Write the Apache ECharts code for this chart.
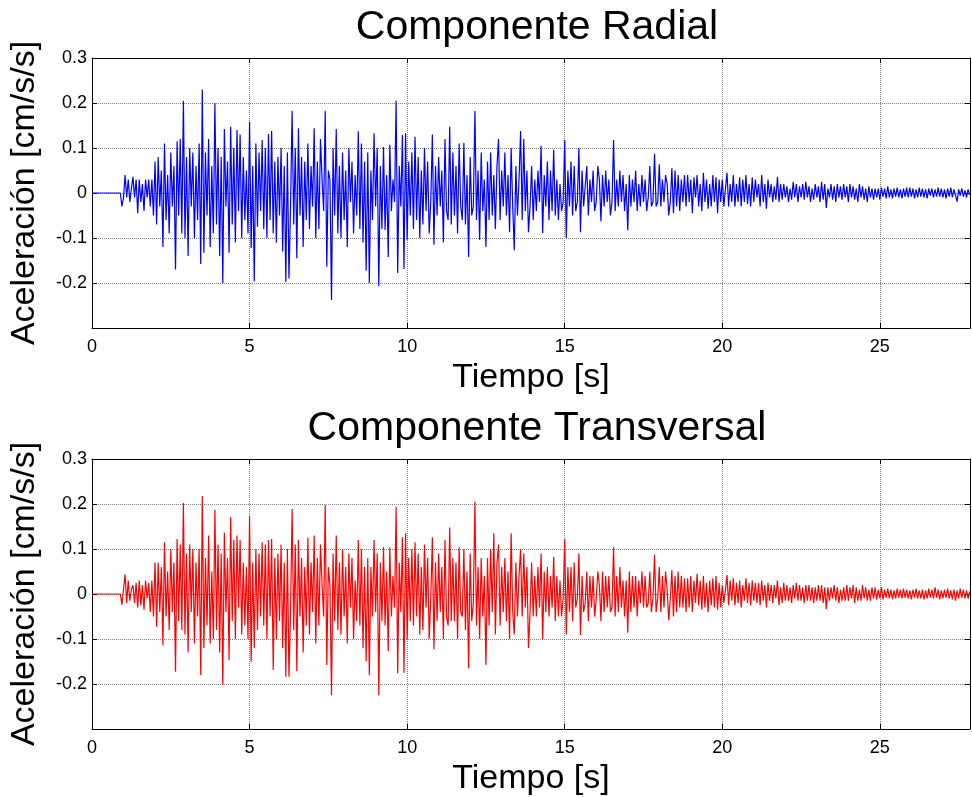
<!DOCTYPE html>
<html>
<head>
<meta charset="utf-8">
<script src="https://cdn.jsdelivr.net/npm/echarts@6/dist/echarts.min.js"></script>
<style>
html,body{margin:0;padding:0;background:#fff;}
#c{width:972px;height:797px;}
</style>
</head>
<body>
<div id="c"></div>
<script>
// ---- data ----
const titles = ['Componente Radial', 'Componente Transversal'];
const xName = 'Tiempo [s]';
const yName = 'Aceleración [cm/s/s]';
const yTickLabels = ['-0.2', '-0.1', '0', '0.1', '0.2', '0.3'];
const T_START = 0.9;   // first sample after the quiet start
const DT = 0.05;       // sample spacing (s)
const X_MAX = 27.86;

const radial = [
 0, -0.03, -0.01, 0.04, -0.01, 0.03, -0.02, 0.01, 0.036, -0.01, 0.03, -0.045, 0.03, -0.02, 0.02, -0.04, 0.03, -0.01, 0.03, -0.03,
 0.03, -0.05, 0.07, -0.07, 0.08, -0.03, 0.05, -0.12, 0.11, -0.06, 0.04, -0.09, 0.09, -0.03, 0.06, -0.17, 0.115, -0.05, 0.12, -0.09,
 0.205, -0.1, 0.08, -0.14, 0.1, -0.03, 0.09, -0.1, 0.06, -0.06, 0.11, -0.158, 0.23, -0.133, 0.09, -0.05, 0.12, -0.12, 0.06, -0.09,
 0.2, -0.07, 0.1, -0.14, 0.08, -0.2, 0.142, -0.03, 0.07, -0.133, 0.147, -0.07, 0.1, -0.11, 0.14, -0.04, 0.13, -0.1, 0.08, -0.06,
 0.05, -0.09, 0.158, -0.122, 0.06, -0.196, 0.11, -0.075, 0.09, -0.04, 0.118, -0.08, 0.1, -0.1, 0.131, -0.06, 0.138, -0.09, 0.07, -0.11,
 0.08, -0.05, 0.1, -0.13, 0.06, -0.198, 0.09, -0.19, -0.03, 0.183, -0.07, 0.1, -0.145, 0.144, -0.05, 0.08, -0.12, 0.07, -0.06, 0.11,
 -0.08, 0.06, -0.03, 0.144, -0.1, 0.07, -0.08, 0.12, 0.03, -0.04, 0.183, -0.164, 0.05, 0.03, -0.238, 0.1, -0.05, 0.142, -0.09, 0.06,
 -0.1, 0.09, -0.06, 0.05, -0.12, 0.1, -0.02, 0.07, -0.09, 0.04, -0.05, 0.137, -0.08, 0.11, -0.11, 0.07, -0.173, 0.09, -0.2, 0.05,
 -0.06, 0.133, -0.03, 0.1, -0.207, 0.06, -0.08, 0.102, -0.082, 0.04, -0.142, 0.107, -0.04, 0.03, -0.02, 0.205, -0.178, 0.06, -0.03, 0.129,
 -0.169, 0.133, -0.104, 0.07, -0.05, 0.09, -0.08, 0.125, -0.06, 0.08, -0.1, 0.05, -0.07, 0.1, -0.04, 0.07, -0.09, -0.02, 0.13, -0.115,
 0.06, -0.05, 0.08, -0.03, 0.05, -0.11, 0.12, -0.04, -0.06, 0.147, -0.07, 0.09, -0.05, 0.06, -0.09, 0.11, -0.03, -0.06, 0.111, -0.07,
 0.04, -0.142, 0.08, -0.05, -0.03, 0.182, -0.06, 0.05, -0.104, 0.09, -0.04, 0.03, -0.12, 0.07, -0.06, 0.09, -0.05, 0.04, -0.08, 0.06,
 0.12, -0.06, 0.05, -0.03, 0.09, -0.05, 0.04, -0.087, 0.1, -0.03, -0.127, 0.06, -0.05, 0.03, 0.138, -0.06, 0.12, -0.04, 0.05, -0.087,
 -0.03, 0.06, -0.06, 0.03, -0.04, 0.05, -0.02, 0.105, -0.089, 0.04, -0.03, 0.07, -0.06, 0.05, -0.04, 0.096, -0.05, 0.03, -0.06, 0.02,
 -0.04, -0.02, 0.118, -0.1, 0.05, -0.03, 0.07, -0.05, 0.06, -0.04, -0.02, 0.1, -0.087, 0.05, -0.03, -0.03, 0.06, -0.05, 0.03, -0.02,
 0.05, -0.04, -0.02, 0.06, 0.03, -0.063, 0.04, -0.03, 0.05, -0.02, 0.03, -0.05, -0.02, 0.118, -0.04, 0.03, -0.03, 0.05, -0.02, 0.04,
 -0.04, 0.02, -0.083, 0.04, -0.03, 0.03, -0.02, 0.05, -0.04, 0.02, -0.03, 0.04, -0.02, 0.03, -0.04, -0.01, 0.06, -0.03, -0.02, 0.087,
 -0.03, -0.02, 0.064, -0.03, 0.03, -0.02, 0.04, 0.02, -0.05, -0.02, 0.055, -0.045, 0.05, -0.03, 0.04, -0.04, 0.03, -0.02, 0.04, -0.03,
 0.04, -0.02, 0.03, -0.045, 0.035, -0.01, 0.04, -0.03, 0.02, -0.04, 0.045, -0.02, 0.03, -0.035, 0.02, -0.03, 0.04, -0.02, 0.035, -0.045,
 0.03, -0.02, 0.03, -0.03, 0.01, 0.045, -0.03, 0.02, -0.02, 0.04, -0.03, 0.02, -0.02, 0.035, -0.03, 0.03, -0.02, 0.04, -0.025, 0.02,
 -0.03, 0.035, -0.02, 0.03, -0.01, 0.02, -0.03, 0.04, -0.02, 0.02, -0.035, 0.03, -0.01, 0.02, -0.02, 0.015, -0.015, 0.036, -0.02, 0.02,
 -0.015, 0.02, -0.01, 0.015, -0.02, 0.01, -0.015, 0.025, -0.01, 0.02, -0.02, 0.015, -0.01, 0.02, -0.015, 0.025, -0.01, 0.015, -0.02, 0.01,
 -0.015, 0.02, -0.01, 0.015, -0.02, 0.025, -0.015, 0.02, -0.033, 0.01, -0.01, 0.02, -0.015, 0.015, -0.02, 0.02, -0.01, 0.015, -0.015, 0.02,
 -0.01, 0.015, -0.02, 0.02, -0.01, 0.015, -0.015, 0.01, -0.02, 0.02, -0.01, 0.015, -0.015, 0.01, -0.02, 0.015, -0.01, 0.01, -0.015, 0.01,
 -0.01, 0.01, -0.015, 0.012, -0.008, 0.01, -0.012, 0.015, -0.01, 0.008, -0.012, 0.01, -0.008, 0.012, -0.01, 0.008, -0.012, 0.01, -0.008, 0.012,
 -0.01, 0.012, -0.008, 0.01, -0.012, 0.008, -0.01, 0.012, -0.008, 0.01, -0.01, 0.008, -0.012, 0.01, -0.006, 0.01, -0.01, 0.008, -0.008, 0.012,
 -0.008, 0.01, -0.01, 0.008, -0.012, 0.01, -0.008, 0.012, -0.01, 0.008, 0.01, -0.019, 0.008, -0.006, 0.01, -0.008, 0.006, -0.01, 0.008, -0.004
];

const transversal = [
 0, -0.024, 0.01, 0.044, -0.02, 0.03, -0.015, 0.01, 0.02, -0.02, 0.025, -0.03, 0.03, -0.025, 0.02, -0.035, 0.03, -0.01, 0.025, -0.04,
 0.03, -0.05, 0.07, -0.073, 0.07, -0.04, 0.06, -0.114, 0.115, -0.05, 0.05, -0.08, 0.1, -0.04, 0.07, -0.173, 0.122, -0.06, 0.11, -0.08,
 0.202, -0.09, 0.09, -0.13, 0.11, -0.04, 0.1, -0.11, 0.07, -0.05, 0.1, -0.18, 0.218, -0.12, 0.08, -0.07, 0.13, -0.11, 0.05, -0.1,
 0.187, -0.08, 0.11, -0.13, 0.09, -0.202, 0.136, -0.04, 0.08, -0.147, 0.171, -0.06, 0.12, -0.1, 0.13, -0.03, 0.12, -0.09, 0.07, -0.07,
 0.06, -0.1, 0.173, -0.15, 0.07, -0.12, 0.1, -0.08, 0.09, -0.05, 0.115, -0.07, 0.11, -0.1, 0.12, -0.05, 0.122, -0.169, 0.08, -0.1,
 0.09, -0.06, 0.11, -0.12, 0.07, -0.184, 0.1, -0.184, -0.04, 0.189, -0.08, 0.11, -0.171, 0.12, -0.05, 0.08, -0.13, 0.06, -0.07, 0.125,
 -0.09, 0.07, -0.04, 0.13, -0.11, 0.08, -0.07, 0.11, 0.02, -0.05, 0.198, -0.158, 0.06, 0.02, -0.225, 0.09, -0.06, 0.13, -0.08, 0.07,
 -0.09, 0.1, -0.05, 0.06, -0.11, 0.09, -0.03, 0.08, -0.1, 0.03, -0.06, 0.12, -0.07, 0.1, -0.12, 0.06, -0.15, 0.08, -0.18, 0.06,
 -0.05, 0.12, -0.04, 0.09, -0.225, 0.07, -0.06, 0.104, -0.07, 0.05, -0.127, 0.104, -0.05, 0.04, -0.03, 0.194, -0.176, 0.07, -0.04, 0.126,
 -0.175, 0.135, -0.1, 0.08, -0.06, 0.1, -0.07, 0.115, -0.05, 0.09, -0.09, 0.06, -0.08, 0.11, -0.03, 0.08, -0.1, -0.01, 0.126, -0.123,
 0.07, -0.06, 0.09, -0.04, 0.06, -0.1, 0.12, -0.05, -0.07, 0.148, -0.06, 0.08, -0.06, 0.07, -0.1, 0.104, -0.04, -0.05, 0.1, -0.08,
 0.05, -0.165, 0.09, -0.06, -0.02, 0.205, -0.07, 0.06, -0.1, 0.08, -0.05, 0.04, -0.157, 0.08, -0.07, 0.1, -0.04, 0.135, -0.09, 0.07,
 0.11, -0.07, 0.06, -0.04, 0.08, -0.06, 0.05, -0.1, 0.135, -0.04, -0.09, 0.07, -0.05, 0.04, 0.1, -0.05, 0.09, -0.03, 0.06, -0.12,
 -0.04, 0.07, -0.05, 0.04, -0.05, 0.06, -0.03, 0.09, -0.1, 0.05, -0.04, 0.06, -0.05, 0.04, -0.03, 0.083, -0.06, 0.04, -0.05, 0.03,
 -0.05, -0.01, 0.122, -0.09, 0.06, -0.04, 0.06, -0.06, 0.07, -0.03, -0.01, 0.09, -0.091, 0.04, -0.04, -0.02, 0.05, -0.06, 0.04, -0.03,
 0.04, -0.05, -0.01, 0.05, 0.02, -0.06, 0.05, -0.04, 0.04, -0.03, 0.04, -0.04, -0.03, 0.104, -0.05, 0.04, -0.04, 0.06, -0.03, 0.03,
 -0.05, 0.03, -0.086, 0.05, -0.04, 0.04, -0.03, 0.04, -0.05, 0.03, -0.02, 0.05, -0.03, 0.04, -0.03, -0.02, 0.05, -0.04, -0.01, 0.087,
 -0.04, -0.01, 0.06, -0.04, 0.04, -0.03, 0.05, 0.01, -0.058, -0.01, 0.053, -0.05, 0.04, -0.04, 0.05, -0.03, 0.04, -0.03, 0.035, -0.04,
 0.035, -0.03, 0.04, -0.04, 0.03, -0.02, 0.045, -0.025, 0.03, -0.035, 0.04, -0.03, 0.025, -0.04, 0.03, -0.025, 0.035, -0.03, 0.04, -0.035,
 0.025, -0.03, 0.02, -0.02, 0.01, 0.042, -0.025, 0.03, -0.015, 0.035, -0.025, 0.025, -0.02, 0.03, -0.03, 0.02, -0.015, 0.035, -0.02, 0.025,
 -0.025, 0.03, -0.015, 0.025, -0.02, 0.025, -0.025, 0.03, -0.015, 0.02, -0.03, 0.025, -0.015, 0.02, -0.02, 0.02, -0.01, 0.03, -0.025, 0.015,
 -0.02, 0.025, -0.015, 0.02, -0.015, 0.015, -0.02, 0.02, -0.01, 0.025, -0.015, 0.02, -0.015, 0.015, -0.02, 0.02, -0.015, 0.02, -0.015, 0.015,
 -0.02, 0.015, -0.015, 0.02, -0.015, 0.02, -0.02, 0.015, -0.033, 0.015, -0.015, 0.015, -0.01, 0.02, -0.015, 0.015, -0.02, 0.01, -0.015, 0.015,
 -0.015, 0.02, -0.015, 0.015, -0.01, 0.02, -0.02, 0.015, -0.015, 0.01, -0.015, 0.02, -0.01, 0.015, -0.015, 0.01, -0.015, 0.015, -0.01, 0.015,
 -0.012, 0.01, -0.01, 0.015, -0.012, 0.01, -0.008, 0.012, -0.01, 0.01, -0.012, 0.008, -0.01, 0.012, -0.008, 0.01, -0.01, 0.012, -0.008, 0.01,
 -0.01, 0.008, -0.012, 0.01, -0.008, 0.012, -0.01, 0.008, -0.01, 0.01, -0.012, 0.008, -0.01, 0.012, -0.008, 0.01, -0.01, 0.015, -0.008, 0.01,
 -0.012, 0.008, -0.01, 0.01, -0.008, 0.012, -0.01, 0.008, -0.012, 0.01, -0.015, 0.008, -0.01, 0.012, -0.008, 0.01, -0.01, 0.008, -0.01, 0.006
];

// ---- chart ----
const FONT = "'Liberation Sans', Arial, Helvetica, sans-serif";
function toPairs(vals) {
  const out = [[0, 0]];
  vals.forEach((v, i) => out.push([+(T_START + i * DT).toFixed(2), v]));
  return out;
}

const grids = [
  { left: 92, right: 2, top: 58, height: 270 },
  { left: 92, right: 2, top: 459, height: 270 }
];
const colors = ['#0000ff', '#ff0000'];
const seriesData = [radial, transversal];

const chart = echarts.init(document.getElementById('c'), null, { renderer: 'canvas' });

const xAxes = [], yAxes = [], series = [], titleArr = [];
grids.forEach((g, k) => {
  titleArr.push({
    text: titles[k], left: 532, top: k === 0 ? 2 : 403, textAlign: 'center',
    textStyle: { fontFamily: FONT, fontSize: 41, fontWeight: 'normal', color: '#000' }
  });
  xAxes.push({
    type: 'value', gridIndex: k, position: 'bottom', min: 0, max: X_MAX, interval: 5,
    name: xName, nameLocation: 'middle', nameGap: 33,
    nameTextStyle: { fontFamily: FONT, fontSize: 34, color: '#000' },
    axisLine: { show: true, onZero: false, lineStyle: { color: '#000', width: 1 } },
    axisTick: { show: true, inside: true, length: 5, lineStyle: { color: '#000' } },
    axisLabel: { show: true, showMaxLabel: false, margin: 10, fontFamily: FONT, fontSize: 18, color: '#000' },
    splitLine: { show: true, showMinLine: false, showMaxLine: false, lineStyle: { color: '#808080', type: 'dotted', width: 1 } }
  });
  xAxes.push({
    type: 'value', gridIndex: k, position: 'top', min: 0, max: X_MAX, interval: 5,
    axisLine: { show: true, onZero: false, lineStyle: { color: '#000', width: 1 } },
    axisTick: { show: true, inside: true, length: 5, lineStyle: { color: '#000' } },
    axisLabel: { show: false }, splitLine: { show: false }
  });
  yAxes.push({
    type: 'value', gridIndex: k, position: 'left', min: -0.3, max: 0.3, interval: 0.1,
    name: yName, nameLocation: 'middle', nameGap: 50, nameRotate: 90,
    nameTextStyle: { fontFamily: FONT, fontSize: 34, color: '#000' },
    axisLine: { show: true, onZero: false, lineStyle: { color: '#000', width: 1 } },
    axisTick: { show: true, inside: true, length: 5, lineStyle: { color: '#000' } },
    axisLabel: {
      show: true, margin: 5, fontFamily: FONT, fontSize: 18, color: '#000',
      formatter: function (v) {
        const s = String(Math.round(v * 10) / 10);
        return yTickLabels.indexOf(s) >= 0 ? s : '';
      }
    },
    splitLine: { show: true, showMinLine: false, showMaxLine: false, lineStyle: { color: '#808080', type: 'dotted', width: 1 } }
  });
  yAxes.push({
    type: 'value', gridIndex: k, position: 'right', min: -0.3, max: 0.3, interval: 0.1,
    axisLine: { show: true, onZero: false, lineStyle: { color: '#000', width: 1 } },
    axisTick: { show: true, inside: true, length: 5, lineStyle: { color: '#000' } },
    axisLabel: { show: false }, splitLine: { show: false }
  });
  series.push({
    type: 'line', xAxisIndex: k * 2, yAxisIndex: k * 2,
    data: toPairs(seriesData[k]), showSymbol: false, symbol: 'none',
    lineStyle: { color: colors[k], width: 1.2 }, itemStyle: { color: colors[k] },
    sampling: null, animation: false, z: 1
  });
});

chart.setOption({
  animation: false,
  backgroundColor: '#fff',
  title: titleArr,
  grid: grids,
  xAxis: xAxes,
  yAxis: yAxes,
  series: series
});
</script>
</body>
</html>
